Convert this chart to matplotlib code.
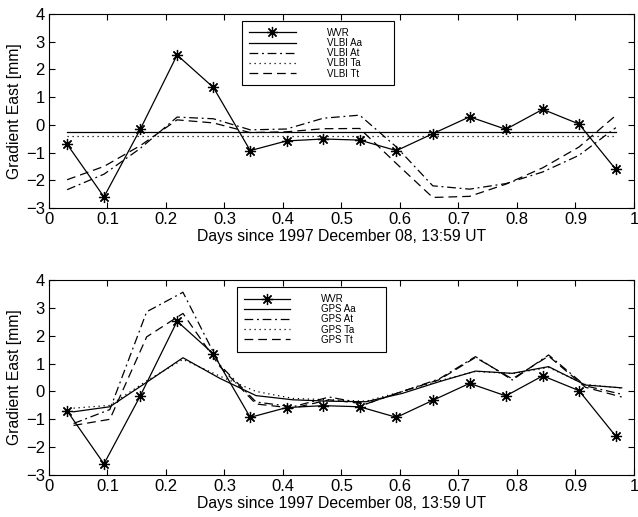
import numpy as np
import matplotlib.pyplot as plt

plt.rcParams['font.family'] = ['Liberation Sans', 'DejaVu Sans']

# WVR epochs and values (same in both panels)
t_wvr = [0.031, 0.094, 0.156, 0.219, 0.281, 0.344, 0.406, 0.469,
         0.531, 0.594, 0.656, 0.719, 0.781, 0.844, 0.906, 0.969]
wvr = [-0.70, -2.60, -0.16, 2.52, 1.35, -0.93, -0.58, -0.51,
       -0.55, -0.93, -0.32, 0.29, -0.16, 0.56, 0.03, -1.61]

# VLBI (top panel), same epochs as WVR
vlbi_aa = [-0.26] * 16
vlbi_at = [-2.34, -1.78, -0.85, 0.28, 0.22, -0.18, -0.15, 0.24,
           0.35, -0.80, -2.20, -2.32, -2.12, -1.70, -1.10, -0.10]
vlbi_ta = [-0.41] * 16
vlbi_tt = [-1.98, -1.50, -0.75, 0.18, 0.07, -0.28, -0.25, -0.14,
           -0.13, -1.40, -2.62, -2.58, -2.14, -1.55, -0.80, 0.34]

# GPS (bottom panel)
t_gps = [0.042, 0.104, 0.167, 0.229, 0.292, 0.354, 0.417, 0.479,
         0.542, 0.604, 0.667, 0.729, 0.792, 0.854, 0.917, 0.979]
gps_aa = [-0.73, -0.55, 0.33, 1.21, 0.47, -0.15, -0.30, -0.35,
          -0.37, -0.07, 0.35, 0.73, 0.65, 0.89, 0.23, 0.13]
gps_at = [-1.15, -0.65, 2.86, 3.56, 0.95, -0.38, -0.55, -0.20,
          -0.45, 0.00, 0.45, 1.25, 0.41, 1.31, 0.20, -0.10]
gps_ta = [-0.60, -0.50, 0.38, 1.15, 0.55, 0.00, -0.25, -0.30,
          -0.35, 0.00, 0.38, 0.72, 0.64, 0.86, 0.25, 0.12]
gps_tt = [-1.22, -1.00, 1.96, 2.80, 0.90, -0.45, -0.60, -0.30,
          -0.45, 0.00, 0.42, 1.22, 0.45, 1.27, 0.15, -0.20]

xlabel = "Days since 1997 December 08, 13:59 UT"
ylabel = "Gradient East [mm]"
asterisk = (8, 2, 0)


def panel(ax, series, names, leg_box):
    t_other, aa, at, ta, tt = series
    ax.plot(t_wvr, wvr, color='k', lw=0.9, marker=asterisk, ms=8, mew=0.9, label=names[0])
    ax.plot(t_other, aa, color='k', lw=0.9, ls='-', label=names[1])
    ax.plot(t_other, at, color='k', lw=0.9, ls=(0, (7, 3, 1.5, 3)), label=names[2])
    ax.plot(t_other, ta, color='k', lw=0.9, ls=(0, (1, 3)), label=names[3])
    ax.plot(t_other, tt, color='k', lw=0.9, ls=(0, (7, 4)), label=names[4])

    ax.set_xlim(0, 1)
    ax.set_ylim(-3, 4)
    ax.set_xticks(np.arange(0, 1.01, 0.1))
    ax.set_xticklabels(['0', '0.1', '0.2', '0.3', '0.4', '0.5', '0.6', '0.7', '0.8', '0.9', '1'])
    ax.set_yticks(range(-3, 5))
    ax.tick_params(direction='in', top=True, right=True, length=4, width=0.8, labelsize=12, pad=3)
    for s in ax.spines.values():
        s.set_linewidth(0.8)
    ax.set_xlabel(xlabel, fontsize=11.3, labelpad=1)
    ax.set_ylabel(ylabel, fontsize=11.3, labelpad=3)

    leg = ax.legend(loc='upper left', bbox_to_anchor=leg_box, mode='expand',
                    borderaxespad=0, fontsize=7, handlelength=4.8, handletextpad=3.2,
                    labelspacing=0.02, borderpad=0.7, fancybox=False, framealpha=1)
    leg.get_frame().set_edgecolor('k')
    leg.get_frame().set_linewidth(0.8)


fig = plt.figure(figsize=(6.38, 5.17), dpi=100)
ax1 = fig.add_axes([0.0768, 0.5977, 0.9169, 0.3752])
ax2 = fig.add_axes([0.0768, 0.0812, 0.9169, 0.3772])

# legend boxes (x0, y0, width, height) in axes fractions
panel(ax1, (t_wvr, vlbi_aa, vlbi_at, vlbi_ta, vlbi_tt),
      ['WVR', 'VLBI Aa', 'VLBI At', 'VLBI Ta', 'VLBI Tt'],
      (0.33, 0.655, 0.26, 0.309))
panel(ax2, (t_gps, gps_aa, gps_at, gps_ta, gps_tt),
      ['WVR', 'GPS Aa', 'GPS At', 'GPS Ta', 'GPS Tt'],
      (0.321, 0.658, 0.255, 0.305))

fig.savefig('out.png', dpi=100)
plt.close()
